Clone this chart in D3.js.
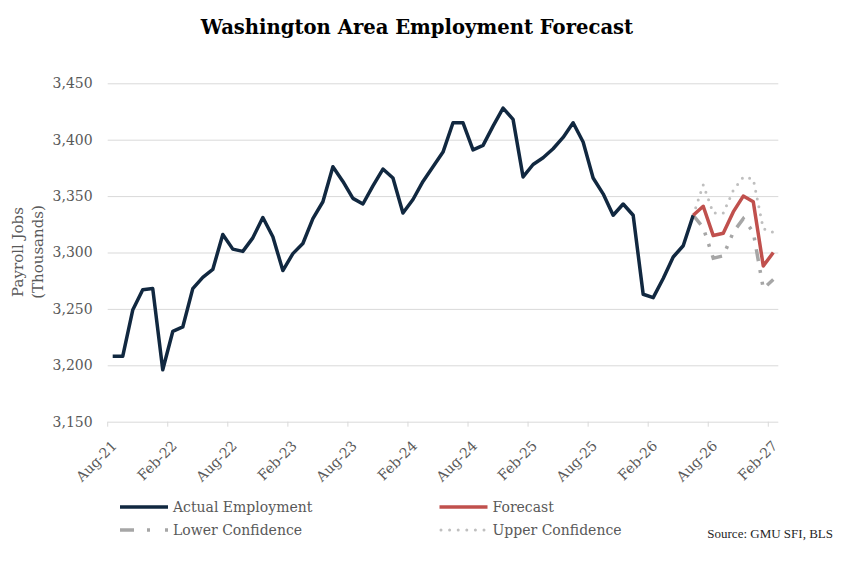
<!DOCTYPE html>
<html>
<head>
<meta charset="utf-8">
<script src="https://cdn.jsdelivr.net/npm/d3@7"></script>
<style>
body { margin: 0; background: #fff; }
svg { display: block; }
</style>
</head>
<body>
<div class="content"></div>
<script>
// months on the category axis, Aug-21 .. Feb-27
var firstMonth = new Date(2021, 7, 1);
var lastMonth = new Date(2027, 1, 1);
var months = d3.timeMonth.range(firstMonth, d3.timeMonth.offset(lastMonth, 1));

var tickLabels = ["Aug-21", "Feb-22", "Aug-22", "Feb-23", "Aug-23", "Feb-24",
                  "Aug-24", "Feb-25", "Aug-25", "Feb-26", "Aug-26", "Feb-27"];
var yTicks = [3150, 3200, 3250, 3300, 3350, 3400, 3450];

// payroll jobs, thousands (Aug-21 .. Jun-26)
var actual = [3208, 3208, 3249, 3267, 3268, 3196, 3230, 3234, 3268, 3278, 3285, 3316,
              3303, 3301, 3313, 3331, 3314, 3284, 3299, 3308, 3330, 3345, 3376, 3363,
              3348, 3343, 3359, 3374, 3366, 3335, 3347, 3363, 3376, 3389, 3415, 3415,
              3391, 3395, 3412, 3428, 3418, 3367, 3378, 3384, 3392, 3402, 3415, 3398,
              3366, 3352, 3333, 3343, 3333, 3263, 3260, 3277, 3296, 3306, 3333];
// Jun-26 .. Feb-27
var forecast = [3333, 3341, 3315, 3317, 3336, 3350, 3345, 3288, 3300];
var lower    = [3333, 3322, 3295, 3297, 3318, 3330, 3318, 3268, 3276];
var upper    = [3333, 3360, 3335, 3335, 3355, 3367, 3365, 3321, 3318];

var W = 845, H = 564;
var plotL = 107.7, plotR = 778.3, plotT = 83.3, plotB = 421.7;
var grey = "#595959";
var font = "'DejaVu Serif', serif";

var svg = d3.select(".content")
  .append("svg")
  .attr("width", W)
  .attr("height", H)
  .style("font-family", font);

var x = d3.scaleBand().domain(months).range([plotL, plotR]);
var bw = x.bandwidth();
var y = d3.scaleLinear().domain([3150, 3450]).range([plotB, plotT]);
var fmt = d3.timeFormat("%b-%y");

// gridlines + y labels
var yAxis = svg.append("g")
  .attr("transform", "translate(" + plotL + ",0)")
  .call(d3.axisLeft(y).tickValues(yTicks).tickSize(-(plotR - plotL)).tickPadding(15).tickFormat(d3.format(",")));
yAxis.select(".domain").remove();
yAxis.selectAll(".tick line").attr("stroke", "#d9d9d9");
yAxis.selectAll(".tick text")
  .attr("fill", grey)
  .style("font-size", "14px")
  .style("font-family", font);

// x axis ticks at category boundaries
var tickMonths = months.filter(function(m) { return tickLabels.indexOf(fmt(m)) >= 0; });
var xg = svg.append("g");
xg.selectAll("line.tk")
  .data(tickMonths)
  .enter()
  .append("line")
  .attr("x1", function(d) { return x(d); })
  .attr("x2", function(d) { return x(d); })
  .attr("y1", plotB)
  .attr("y2", plotB + 5)
  .attr("stroke", "#d9d9d9");
xg.selectAll("text")
  .data(tickMonths)
  .enter()
  .append("text")
  .attr("transform", function(d) {
    return "translate(" + (x(d) + bw / 2 + 5) + "," + (plotB + 25) + ") rotate(-45)";
  })
  .style("text-anchor", "end")
  .style("font-size", "14px")
  .attr("fill", grey)
  .text(function(d) { return fmt(d); });

// lines
function pts(values, offset) {
  return values.map(function(v, i) { return { m: months[offset + i], v: v }; });
}
var line = d3.line()
  .x(function(d) { return x(d.m) + bw / 2; })
  .y(function(d) { return y(d.v); });

var fStart = months.length - forecast.length;

svg.append("path")
  .attr("d", line(pts(upper, fStart)))
  .attr("fill", "none")
  .attr("stroke", "#bfbfbf")
  .attr("stroke-width", 3)
  .attr("stroke-linecap", "round")
  .attr("stroke-dasharray", "0,8");

svg.append("path")
  .attr("d", line(pts(lower, fStart)))
  .attr("fill", "none")
  .attr("stroke", "#a6a6a6")
  .attr("stroke-width", 3.5)
  .attr("stroke-dasharray", "12,9,3,9,3,9");

svg.append("path")
  .attr("d", line(pts(actual, 0)))
  .attr("fill", "none")
  .attr("stroke", "#112840")
  .attr("stroke-width", 3.5)
  .attr("stroke-linejoin", "round");

svg.append("path")
  .attr("d", line(pts(forecast, fStart)))
  .attr("fill", "none")
  .attr("stroke", "#c0504d")
  .attr("stroke-width", 3.5)
  .attr("stroke-linejoin", "round");

// title
svg.append("text")
  .attr("x", 417)
  .attr("y", 34)
  .style("text-anchor", "middle")
  .style("font-size", "19.6px")
  .style("font-weight", "bold")
  .attr("fill", "#000")
  .text("Washington Area Employment Forecast");

// y axis title
var yt = svg.append("text")
  .attr("transform", "translate(0,252) rotate(-90)")
  .style("text-anchor", "middle")
  .style("font-size", "15px")
  .attr("fill", grey);
yt.append("tspan").attr("x", 0).attr("y", 23).text("Payroll Jobs");
yt.append("tspan").attr("x", 0).attr("y", 43).text("(Thousands)");

// legend
var legend = [
  { name: "Actual Employment", x: 120, y: 507, color: "#112840", dash: null, w: 3.5, cap: "butt" },
  { name: "Forecast", x: 439.5, y: 507, color: "#c0504d", dash: null, w: 3.5, cap: "butt" },
  { name: "Lower Confidence", x: 120, y: 530, color: "#a6a6a6", dash: "14,13,3,15,3,20", w: 3.5, cap: "butt" },
  { name: "Upper Confidence", x: 439.5, y: 530, color: "#bfbfbf", dash: "0,8.6", w: 3, cap: "round" }
];
var lg = svg.selectAll("g.lg")
  .data(legend)
  .enter()
  .append("g")
  .attr("class", "lg")
  .attr("transform", function(d) { return "translate(" + d.x + "," + d.y + ")"; });
lg.append("line")
  .attr("x1", function(d) { return d.cap == "round" ? 1.5 : 0; })
  .attr("x2", 48)
  .attr("stroke", function(d) { return d.color; })
  .attr("stroke-width", function(d) { return d.w; })
  .attr("stroke-linecap", function(d) { return d.cap; })
  .attr("stroke-dasharray", function(d) { return d.dash; });
lg.append("text")
  .attr("x", 53)
  .attr("dy", "0.35em")
  .style("font-size", "14px")
  .attr("fill", grey)
  .text(function(d) { return d.name; });

svg.append("text")
  .attr("x", 833)
  .attr("y", 538)
  .style("text-anchor", "end")
  .style("font-family", "'Liberation Serif', serif")
  .style("font-size", "13px")
  .attr("fill", "#262626")
  .text("Source: GMU SFI, BLS");
</script>
</body>
</html>
